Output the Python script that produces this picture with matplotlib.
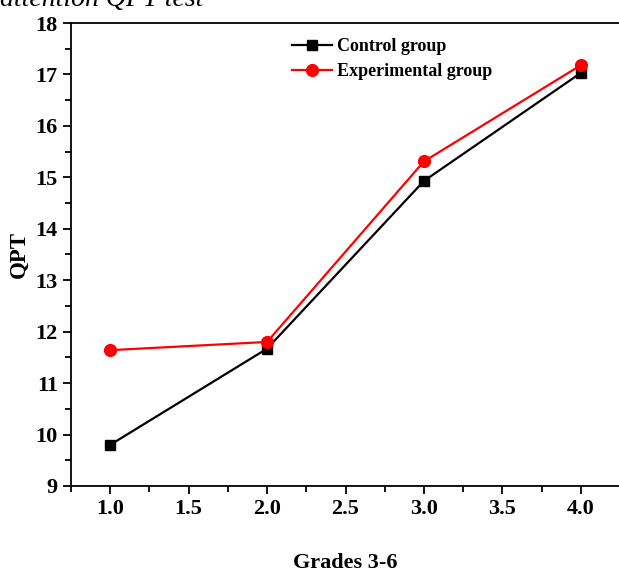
import matplotlib
matplotlib.use("Agg")
import matplotlib.pyplot as plt
from matplotlib.ticker import MultipleLocator

grades = [1.0, 2.0, 3.0, 4.0]
control = [9.80, 11.67, 14.93, 17.03]
experimental = [11.64, 11.80, 15.31, 17.18]

plt.rcParams['font.family'] = ['Liberation Serif', 'DejaVu Serif']
plt.rcParams['font.weight'] = 'bold'

fig = plt.figure(figsize=(6.19, 5.71), dpi=100)
ax = fig.add_axes([0.1147, 0.1489, 0.8870, 0.8108])

ax.plot(grades, control, color='black', lw=1.6, marker='s', ms=7.5, label='Control group')
ax.plot(grades, experimental, color='red', lw=1.6, marker='o', ms=8.5, label='Experimental group')

ax.set_xlim(0.75, 4.25)
ax.set_ylim(9, 18)
ax.xaxis.set_major_locator(MultipleLocator(0.5))
ax.xaxis.set_minor_locator(MultipleLocator(0.25))
ax.yaxis.set_major_locator(MultipleLocator(1))
ax.yaxis.set_minor_locator(MultipleLocator(0.5))
ax.xaxis.set_major_formatter(matplotlib.ticker.FormatStrFormatter('%.1f'))
ax.tick_params(which='major', direction='out', length=6, width=1.3, labelsize=16)
ax.tick_params(which='minor', direction='out', length=4, width=1.3)
for s in ax.spines.values():
    s.set_linewidth(1.3)

ax.set_xlabel('Grades 3-6', fontsize=16, fontweight='bold', labelpad=24)
ax.set_ylabel('QPT', fontsize=16.5, fontweight='bold', labelpad=4)

ax.legend(loc='upper left', bbox_to_anchor=(0.38, 0.995), frameon=False, fontsize=13,
          handlelength=2.2, handletextpad=0.3, labelspacing=0.45, borderaxespad=0.3)

fig.text(0.0, 1.0, 'attention QPT test', fontsize=20, fontstyle='italic', fontweight='normal',
         va='center', ha='left')

fig.savefig('out.png', dpi=100)
